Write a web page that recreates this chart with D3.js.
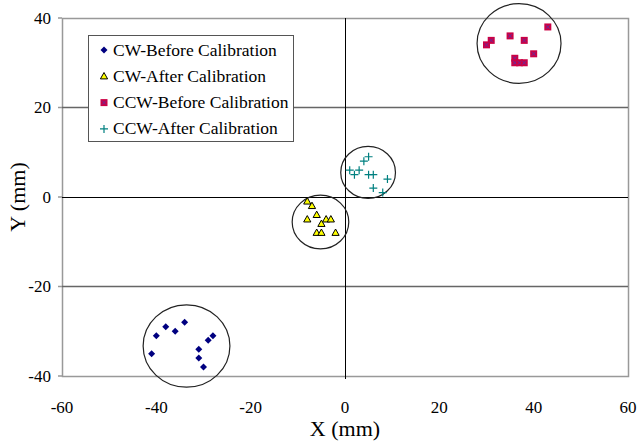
<!DOCTYPE html>
<html>
<head>
<meta charset="utf-8">
<script src="https://cdn.jsdelivr.net/npm/d3@7"></script>
<style>
  body { margin: 0; background: #fff; }
</style>
</head>
<body>
<script>
// Point data (mm)
const cwBefore = [[-41, -35], [-40, -31], [-38, -29], [-36, -30], [-34, -28],
                  [-31, -34], [-31, -36], [-30, -38], [-29, -32], [-28, -31]];
const cwAfter = [[-8, -1], [-7, -2], [-6, -4], [-8, -5], [-5, -6],
                 [-4, -5], [-3, -5], [-6, -8], [-5, -8], [-2, -8]];
const ccwBefore = [[43, 38], [35, 36], [31, 35], [30, 34], [38, 35],
                   [40, 32], [36, 31], [36, 30], [37, 30], [38, 30]];
const ccwAfter = [[5, 9], [4, 8], [1, 6], [2, 5], [3, 6],
                  [5, 5], [6, 5], [9, 4], [6, 2], [8, 1]];

// Cluster rings: centre x, centre y, radius (mm)
const rings = [[-33.6, -33.3, 9.2], [-5.2, -5.6, 6.0], [4.9, 5.5, 5.8], [36.9, 34.3, 8.9]];

const seriesNames = ["CW-Before Calibration", "CW-After Calibration",
                     "CCW-Before Calibration", "CCW-After Calibration"];
const xTicks = [-60, -40, -20, 0, 20, 40, 60];
const yTicks = [-40, -20, 0, 20, 40];

const width = 638, height = 441;
const margin = {top: 18, right: 10, bottom: 65, left: 62};
const serif = "'Liberation Serif', 'Times New Roman', serif";

const svg = d3.select("body").append("svg")
    .attr("width", width)
    .attr("height", height)
    .attr("font-family", serif);

const x = d3.scaleLinear().domain([-60, 60]).range([margin.left, width - margin.right]);
const y = d3.scaleLinear().domain([-40, 40]).range([height - margin.bottom, margin.top]);

// plot frame
svg.append("rect")
    .attr("x", x(-60) + 0.5).attr("y", y(40) + 0.5)
    .attr("width", x(60) - x(-60)).attr("height", y(-40) - y(40))
    .attr("fill", "none").attr("stroke", "#999").attr("stroke-width", 1.5);

// grid lines at +/-20
svg.selectAll(".grid")
    .data(yTicks.filter(d => d !== 0 && Math.abs(d) !== 40))
    .enter().append("line")
    .attr("class", "grid")
    .attr("x1", x(-60)).attr("x2", x(60))
    .attr("y1", d => y(d)).attr("y2", d => y(d))
    .attr("stroke", "#666").attr("stroke-width", 1.5);

// zero axes
svg.append("line")
    .attr("x1", x(-60)).attr("x2", x(60))
    .attr("y1", Math.round(y(0)) + 0.5).attr("y2", Math.round(y(0)) + 0.5)
    .attr("stroke", "#000");
svg.append("line")
    .attr("x1", Math.round(x(0)) + 0.5).attr("x2", Math.round(x(0)) + 0.5)
    .attr("y1", y(40)).attr("y2", y(-40) + 3)
    .attr("stroke", "#000");

// y ticks
svg.selectAll(".ytick")
    .data(yTicks)
    .enter().append("line")
    .attr("x1", x(-60) - 4).attr("x2", x(-60))
    .attr("y1", d => y(d)).attr("y2", d => y(d))
    .attr("stroke", "#999").attr("stroke-width", 1.5);

// tick labels
svg.selectAll(".xlab")
    .data(xTicks)
    .enter().append("text")
    .attr("x", d => x(d)).attr("y", y(-40) + 37)
    .attr("text-anchor", "middle")
    .attr("font-size", 17)
    .text(d => d);

svg.selectAll(".ylab")
    .data(yTicks)
    .enter().append("text")
    .attr("x", x(-60) - 11).attr("y", d => y(d) + 5.5)
    .attr("text-anchor", "end")
    .attr("font-size", 17)
    .text(d => d);

// axis titles
svg.append("text")
    .attr("x", x(0)).attr("y", 436)
    .attr("text-anchor", "middle")
    .attr("font-size", 22)
    .text("X (mm)");
svg.append("text")
    .attr("transform", `translate(25,${y(0)}) rotate(-90)`)
    .attr("text-anchor", "middle")
    .attr("font-size", 22)
    .text("Y (mm)");

// rings
svg.selectAll(".ring")
    .data(rings)
    .enter().append("ellipse")
    .attr("cx", d => x(d[0])).attr("cy", d => y(d[1]))
    .attr("rx", d => x(d[2]) - x(0)).attr("ry", d => y(0) - y(d[2]))
    .attr("fill", "none").attr("stroke", "#222").attr("stroke-width", 1.2);

// marker drawers
const markers = [
  g => g.append("path").attr("d", "M0,-3.5L3.5,0L0,3.5L-3.5,0Z").attr("fill", "#000080"),
  g => g.append("path").attr("d", "M0,-3.8L3.6,2.6L-3.6,2.6Z")
        .attr("fill", "#ffff00").attr("stroke", "#000").attr("stroke-width", 1),
  g => { g.append("rect").attr("x", -3.5).attr("y", -3.5).attr("width", 7).attr("height", 7)
           .attr("fill", "#cc0044");
         g.append("path").attr("d", "M-2,-2L2,2M2,-2L-2,2").attr("stroke", "#6a2a9a").attr("stroke-width", 1); },
  g => g.append("path").attr("d", "M-4,0H4M0,-4V4").attr("stroke", "#008080").attr("stroke-width", 1.2)
];

const allSeries = [cwBefore, cwAfter, ccwBefore, ccwAfter];

allSeries.forEach((pts, i) => {
  svg.append("g").selectAll("g")
    .data(pts)
    .enter().append("g")
    .attr("transform", d => `translate(${x(d[0])},${y(d[1])})`)
    .each(function() { markers[i](d3.select(this)); });
});

// legend
const legend = svg.append("g");
legend.append("rect")
    .attr("x", 88.5).attr("y", 35.5).attr("width", 205).attr("height", 106)
    .attr("fill", "#fff").attr("stroke", "#555").attr("stroke-width", 1);

seriesNames.forEach((name, i) => {
  const ly = 50 + i * 26.3;
  const mg = legend.append("g").attr("transform", `translate(104,${ly})`);
  markers[i](mg);
  legend.append("text")
    .attr("x", 113).attr("y", ly + 5.5)
    .attr("font-size", 17.5)
    .text(name);
});
</script>
</body>
</html>
